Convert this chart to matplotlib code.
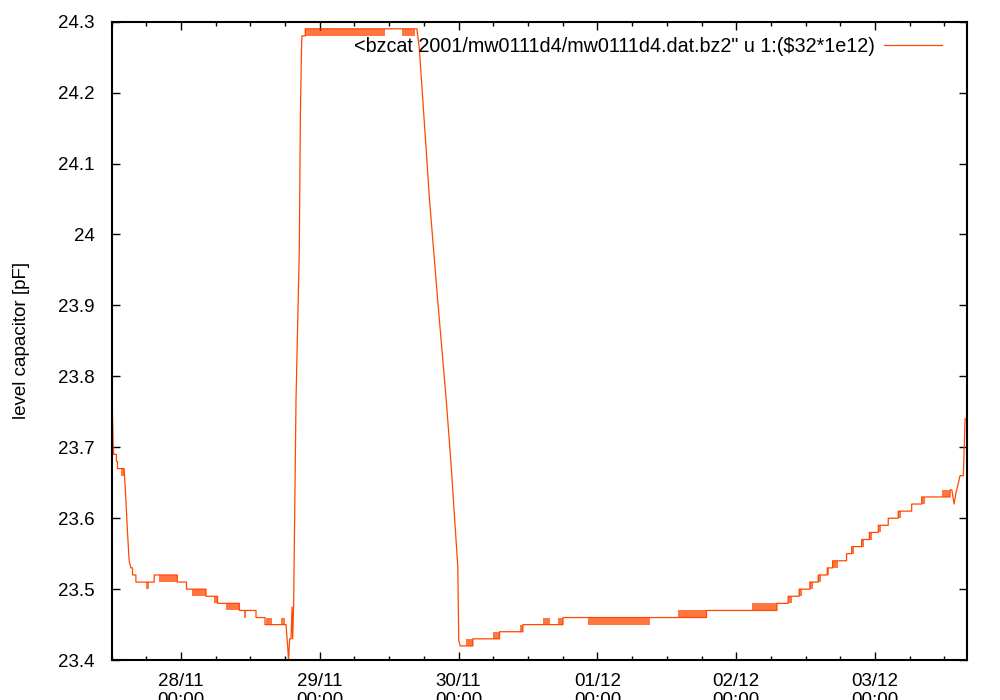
import numpy as np
import matplotlib
matplotlib.use("Agg")
import matplotlib.pyplot as plt
import matplotlib.dates as mdates

plt.rcParams['font.family'] = ['Liberation Sans', 'DejaVu Sans']

# hours since 2001-11-27 00:00, level capacitor value [pF]
t_main = [12.0, 12.3, 12.4, 12.85, 12.85, 13.03, 13.03, 14.19, 14.48, 14.76,
          15.05, 15.35, 15.63, 15.63, 16.21, 16.21, 19.38, 19.38, 23.36, 23.36,
          24.97, 24.97, 28.33, 28.33, 30.34, 30.34, 34.1, 34.1, 36.98, 36.98,
          38.54, 38.54, 42.17, 42.45, 42.62, 42.8, 43.04, 43.21, 43.31, 43.49,
          43.90, 44.47, 44.65, 44.87, 44.94, 45.5, 45.5, 64.8, 64.95, 65.24,
          65.81, 66.40, 66.97, 68.36, 69.86, 70.73, 71.30, 71.87, 72.04, 72.29,
          74.47, 74.47, 79.09, 79.09, 83.12, 83.12, 90.05, 90.05, 114.86, 114.86,
          127.03, 127.03, 128.98, 128.98, 130.89, 130.89, 132.74, 132.74, 134.18, 134.18,
          135.74, 135.74, 136.67, 136.67, 139.09, 139.09, 139.96, 139.96, 141.69, 141.69,
          143.01, 143.01, 144.56, 144.56, 146.29, 146.29, 148.02, 148.02, 150.34, 150.34,
          152.07, 152.07, 156.97, 156.97, 157.26, 157.66, 158.0, 158.41, 158.7, 159.27,
          159.56, 159.69]
v_main = [23.80, 23.70, 23.69, 23.69, 23.68, 23.68, 23.67, 23.67, 23.626, 23.58,
          23.54, 23.53, 23.53, 23.52, 23.52, 23.51, 23.51, 23.52, 23.52, 23.51,
          23.51, 23.50, 23.50, 23.49, 23.49, 23.48, 23.48, 23.47, 23.47, 23.46,
          23.46, 23.45, 23.45, 23.42, 23.40, 23.43, 23.43, 23.475, 23.43, 23.475,
          23.767, 23.978, 24.166, 24.27, 24.28, 24.28, 24.29, 24.29, 24.28, 24.26,
          24.19, 24.12, 24.05, 23.91, 23.767, 23.673, 23.602, 23.532, 23.428, 23.42,
          23.42, 23.43, 23.43, 23.44, 23.44, 23.45, 23.45, 23.46, 23.46, 23.47,
          23.47, 23.48, 23.48, 23.49, 23.49, 23.50, 23.50, 23.51, 23.51, 23.52,
          23.52, 23.53, 23.53, 23.54, 23.54, 23.55, 23.55, 23.56, 23.56, 23.57,
          23.57, 23.58, 23.58, 23.59, 23.59, 23.60, 23.60, 23.61, 23.61, 23.62,
          23.62, 23.63, 23.63, 23.64, 23.64, 23.62, 23.636, 23.65, 23.66, 23.66,
          23.74, 23.74]

# stretches where the reading toggles between two adjacent levels
flick_t0 = [13.6, 17.94, 20.24, 25.98, 29.76, 31.8, 34.96, 38.7, 41.3, 45.5,
            62.3, 73.33, 77.93, 82.55, 86.58, 89.2, 94.37, 109.95, 122.65, 128.98,
            130.89, 132.74, 134.18, 135.74, 136.67, 139.96, 141.69, 143.01, 144.56, 148.02,
            152.07, 155.53]
flick_t1 = [14.2, 18.51, 23.36, 28.33, 30.34, 34.1, 35.3, 39.75, 42.0, 59.2,
            64.4, 74.47, 79.09, 83.12, 87.74, 90.05, 105.05, 114.86, 127.03, 129.6,
            131.4, 133.2, 134.6, 136.1, 137.6, 140.4, 142.1, 143.4, 145.0, 148.5,
            152.7, 156.97]
flick_lo = [23.66, 23.50, 23.51, 23.49, 23.48, 23.47, 23.46, 23.45, 23.45, 24.28,
            24.28, 23.42, 23.43, 23.44, 23.45, 23.45, 23.45, 23.46, 23.47, 23.48,
            23.49, 23.50, 23.51, 23.52, 23.53, 23.55, 23.56, 23.57, 23.58, 23.60,
            23.62, 23.63]

start = np.datetime64('2001-11-27T00:00')


def to_time(hours):
    return start + (np.asarray(hours) * 60).round().astype('timedelta64[m]')


color = '#ff4800'
fig = plt.figure(figsize=(10, 7), dpi=100)
ax = fig.add_axes([0.1115, 0.057, 0.8555, 0.912])

ax.plot(to_time(t_main), v_main, color=color, lw=0.9,
        label='<bzcat 2001/mw0111d4/mw0111d4.dat.bz2" u 1:(\\$32*1e12)')
for a, b, lo in zip(flick_t0, flick_t1, flick_lo):
    ax.fill_between(to_time([a, b]), [lo, lo], [lo + 0.01, lo + 0.01],
                    color=color, lw=0, alpha=0.75)

ax.set_xlim(to_time(12.0), to_time(159.9))
ax.set_ylim(23.4, 24.3)
ax.set_yticks(np.arange(23.4, 24.31, 0.1))
ax.set_yticklabels(['23.4', '23.5', '23.6', '23.7', '23.8', '23.9',
                    '24', '24.1', '24.2', '24.3'])
ax.xaxis.set_major_locator(mdates.DayLocator())
ax.xaxis.set_minor_locator(mdates.HourLocator(byhour=[6, 12, 18]))
ax.xaxis.set_major_formatter(mdates.DateFormatter('%d/%m\n%H:%M'))

ax.tick_params(which='both', direction='in', top=True, right=True,
               labelsize=13.5, width=1.0, colors='black')
ax.tick_params(which='major', length=6, pad=9)
ax.tick_params(which='minor', length=3)
ax.tick_params(axis='y', pad=12)
for s in ax.spines.values():
    s.set_linewidth(1.5)

ax.set_ylabel('level capacitor [pF]', fontsize=13.5, labelpad=20)
ax.legend(loc='upper right', bbox_to_anchor=(0.985, 0.995), frameon=False,
          markerfirst=False, handlelength=2.95, handletextpad=0.45,
          fontsize=14.2, borderaxespad=0.2)

fig.savefig('out.png', dpi=100)
